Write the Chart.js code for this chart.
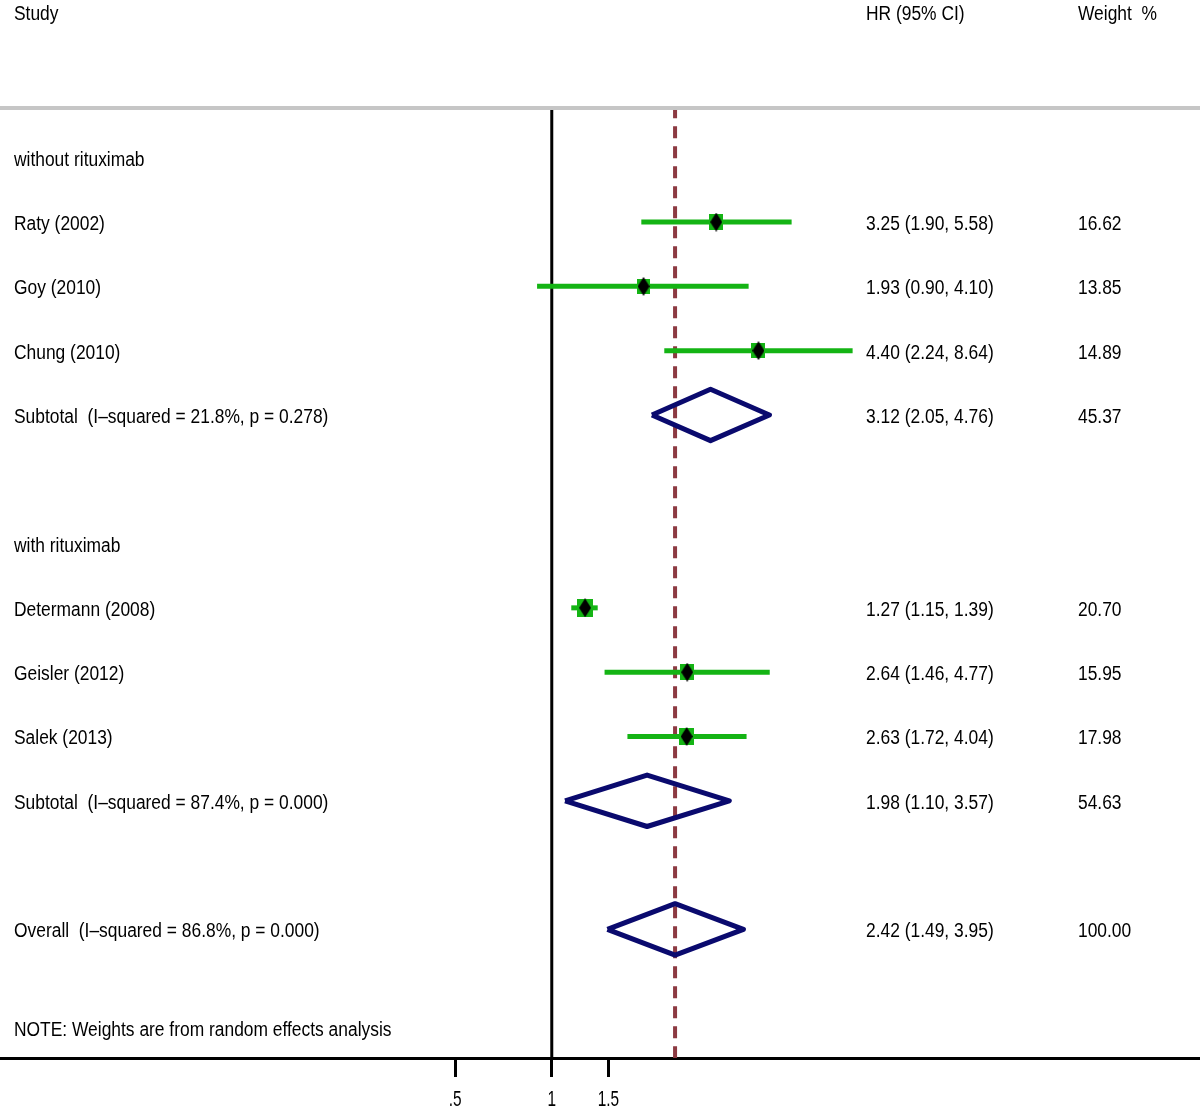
<!DOCTYPE html>
<html>
<head>
<meta charset="utf-8">
<script src="https://cdn.jsdelivr.net/npm/chart.js@4.4.1/dist/chart.umd.min.js"></script>
<style>
  html, body { margin: 0; padding: 0; background: #fff; }
  #forestChart { display: block; }
</style>
</head>
<body>
<canvas id="forestChart" width="1200" height="1112"></canvas>
<script>
// studies
var studyNames = ['Raty (2002)', 'Goy (2010)', 'Chung (2010)', 'Determann (2008)', 'Geisler (2012)', 'Salek (2013)'];
var studyRows = [1, 2, 3, 7, 8, 9];
var studyHr = [3.25, 1.93, 4.40, 1.27, 2.64, 2.63];
var studyLow = [1.90, 0.90, 2.24, 1.15, 1.46, 1.72];
var studyHigh = [5.58, 4.10, 8.64, 1.39, 4.77, 4.04];
var studyWeight = [16.62, 13.85, 14.89, 20.70, 15.95, 17.98];

// subtotals + overall
var pooledNames = ['Subtotal  (I\u2013squared = 21.8%, p = 0.278)', 'Subtotal  (I\u2013squared = 87.4%, p = 0.000)', 'Overall  (I\u2013squared = 86.8%, p = 0.000)'];
var pooledRows = [4, 10, 12];
var pooledHr = [3.12, 1.98, 2.42];
var pooledLow = [2.05, 1.10, 1.49];
var pooledHigh = [4.76, 3.57, 3.95];
var pooledWeight = [45.37, 54.63, 100.00];

var groupNames = ['without rituximab', 'with rituximab'];
var groupRows = [0, 6];

var noteText = 'NOTE: Weights are from random effects analysis';
var noteRow = 13.53;
var headerRow = -2.26;
var headers = ['Study', 'HR (95% CI)', 'Weight  %'];

var tickValues = [0.5, 1, 1.5];
var tickLabels = ['.5', '1', '1.5'];

var GREEN = '#14b414';
var NAVY = '#0a0a6e';
var DASH = '#8c3a42';

function makeBox(w, h, color) {
    var c = document.createElement('canvas');
    c.width = Math.round(w);
    c.height = Math.round(h);
    var g = c.getContext('2d');
    g.fillStyle = color;
    g.fillRect(0, 0, c.width, c.height);
    return c;
}

function makeDiamond(w, h, color) {
    var c = document.createElement('canvas');
    c.width = w;
    c.height = h;
    var g = c.getContext('2d');
    g.fillStyle = color;
    g.beginPath();
    g.moveTo(w / 2, 0);
    g.lineTo(w, h / 2);
    g.lineTo(w / 2, h);
    g.lineTo(0, h / 2);
    g.closePath();
    g.fill();
    return c;
}

// box area follows the weight
var boxImages = studyWeight.map(function (w) {
    return makeBox(3.5 * Math.sqrt(w), 4.0 * Math.sqrt(w), GREEN);
});
var dotImage = makeDiamond(12, 19, '#000');

var datasets = [];

// null line at HR = 1
datasets.push({
    type: 'line',
    data: [{x: 1, y: -0.8}, {x: 1, y: 14}],
    borderColor: '#000',
    borderWidth: 3,
    pointRadius: 0,
    order: 6
});

// overall estimate
datasets.push({
    type: 'line',
    data: [{x: pooledHr[2], y: -0.8}, {x: pooledHr[2], y: 14}],
    borderColor: DASH,
    borderWidth: 4,
    borderDash: [12, 8],
    pointRadius: 0,
    order: 5
});

// confidence intervals
for (var i = 0; i < studyNames.length; i++) {
    datasets.push({
        type: 'line',
        data: [{x: studyLow[i], y: studyRows[i]}, {x: studyHigh[i], y: studyRows[i]}],
        borderColor: GREEN,
        borderWidth: 5,
        pointRadius: 0,
        order: 3
    });
}

// pooled diamonds
for (var j = 0; j < pooledNames.length; j++) {
    var r = pooledRows[j];
    datasets.push({
        type: 'line',
        data: [
            {x: pooledLow[j], y: r},
            {x: pooledHr[j], y: r - 0.4},
            {x: pooledHigh[j], y: r},
            {x: pooledHr[j], y: r + 0.4},
            {x: pooledLow[j], y: r}
        ],
        borderColor: NAVY,
        borderWidth: 5,
        borderJoinStyle: 'round',
        tension: 0,
        pointRadius: 0,
        order: 4
    });
}

var points = studyHr.map(function (v, k) { return {x: v, y: studyRows[k]}; });

datasets.push({
    type: 'scatter',
    data: points,
    pointStyle: function (c) { return boxImages[c.dataIndex]; },
    pointRadius: 8,
    order: 2
});
datasets.push({
    type: 'scatter',
    data: points,
    pointStyle: dotImage,
    pointRadius: 8,
    order: 1
});

function drawText(ctx, txt, x, y, size, sx, align) {
    ctx.save();
    ctx.translate(x, y);
    ctx.scale(sx, 1);
    ctx.font = size + 'px "Liberation Sans", Arial, sans-serif';
    ctx.fillStyle = '#000';
    ctx.textAlign = align || 'left';
    ctx.textBaseline = 'middle';
    ctx.fillText(txt, 0, 0);
    ctx.restore();
}

var textPlugin = {
    id: 'forestText',
    afterDraw: function (chart) {
        var ctx = chart.ctx;
        var ys = chart.scales.y;
        var xs = chart.scales.x;
        var area = chart.chartArea;
        var colHr = 866, colW = 1078, colStudy = 14;
        var sx = 0.87, dy = 2.5;

        // grey rule under the header
        ctx.save();
        ctx.strokeStyle = '#c6c6c6';
        ctx.lineWidth = 4;
        ctx.beginPath();
        ctx.moveTo(0, area.top);
        ctx.lineTo(chart.width, area.top);
        ctx.stroke();
        ctx.restore();

        var hy = ys.getPixelForValue(headerRow) + dy;
        drawText(ctx, headers[0], colStudy, hy, 20, sx);
        drawText(ctx, headers[1], colHr, hy, 20, sx);
        drawText(ctx, headers[2], colW, hy, 20, sx);

        groupNames.forEach(function (g, k) {
            drawText(ctx, g, colStudy, ys.getPixelForValue(groupRows[k]) + dy, 20, sx);
        });
        studyNames.forEach(function (s, k) {
            var y = ys.getPixelForValue(studyRows[k]) + dy;
            drawText(ctx, s, colStudy, y, 20, sx);
            drawText(ctx, studyHr[k].toFixed(2) + ' (' + studyLow[k].toFixed(2) + ', ' + studyHigh[k].toFixed(2) + ')', colHr, y, 20, sx);
            drawText(ctx, studyWeight[k].toFixed(2), colW, y, 20, sx);
        });
        pooledNames.forEach(function (s, k) {
            var y = ys.getPixelForValue(pooledRows[k]) + dy;
            drawText(ctx, s, colStudy, y, 20, sx);
            drawText(ctx, pooledHr[k].toFixed(2) + ' (' + pooledLow[k].toFixed(2) + ', ' + pooledHigh[k].toFixed(2) + ')', colHr, y, 20, sx);
            drawText(ctx, pooledWeight[k].toFixed(2), colW, y, 20, sx);
        });
        drawText(ctx, noteText, colStudy, ys.getPixelForValue(noteRow) + dy, 20, sx);

        // axis tick labels
        tickValues.forEach(function (v, k) {
            drawText(ctx, tickLabels[k], xs.getPixelForValue(v), area.bottom + 42, 22, 0.7, 'center');
        });
    }
};

var forestChart = new Chart(document.getElementById('forestChart').getContext('2d'), {
    type: 'scatter',
    data: {datasets: datasets},
    options: {
        responsive: false,
        devicePixelRatio: 1,
        animation: false,
        layout: {autoPadding: false, padding: {top: 108, left: 0, right: 0, bottom: 0}},
        plugins: {
            legend: {display: false},
            tooltip: {enabled: false}
        },
        scales: {
            x: {
                type: 'logarithmic',
                bounds: 'data',
                min: 0.01916,
                max: 104.2,
                afterBuildTicks: function (scale) {
                    scale.ticks = tickValues.map(function (v) { return {value: v}; });
                },
                afterFit: function (scale) { scale.height = 54; },
                ticks: {display: false},
                grid: {
                    display: true,
                    drawOnChartArea: false,
                    drawTicks: true,
                    tickLength: 19,
                    color: '#000',
                    lineWidth: 3
                },
                border: {display: true, color: '#000', width: 3}
            },
            y: {
                type: 'linear',
                display: false,
                reverse: true,
                min: -0.773,
                max: 14
            }
        }
    },
    plugins: [textPlugin]
});
</script>
</body>
</html>
